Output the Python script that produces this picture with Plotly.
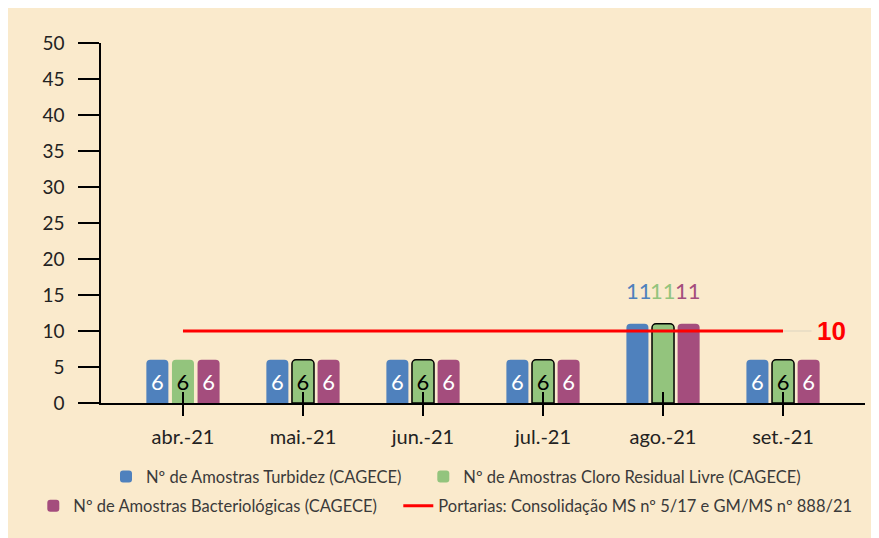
import plotly.graph_objects as go

categories = ["abr.-21", "mai.-21", "jun.-21", "jul.-21", "ago.-21", "set.-21"]
turbidez = [6, 6, 6, 6, 11, 6]
cloro = [6, 6, 6, 6, 11, 6]
bacterio = [6, 6, 6, 6, 11, 6]
portaria = [10, 10, 10, 10, 10, 10]
y_ticks = [0, 5, 10, 15, 20, 25, 30, 35, 40, 45, 50]

names = ["Nº de Amostras Turbidez (CAGECE)",
         "Nº de Amostras Cloro Residual Livre (CAGECE)",
         "Nº de Amostras Bacteriológicas (CAGECE)",
         "Portarias: Consolidação MS nº 5/17 e GM/MS nº 888/21"]
colors = ["#4F81BD", "#93C47D", "#A44D7D"]
inside_colors = ["white", "black", "white"]
legend_ids = ["legend", "legend2", "legend3", "legend4"]
BG = "#FAEACC"
FONT = "Lato"
limit = portaria[0]

fig = go.Figure()
series = [turbidez, cloro, bacterio]
for i, vals in enumerate(series):
    txt = [str(v) if v <= limit else "" for v in vals]
    line_w = [0] + [1.5] * (len(vals) - 1) if i == 1 else 0
    fig.add_trace(go.Bar(
        x=categories, y=vals, name=names[i],
        marker=dict(color=colors[i], line=dict(color="black", width=line_w)),
        text=txt, textposition="inside", insidetextanchor="middle",
        textfont=dict(color=inside_colors[i], size=22, family=FONT),
        constraintext="none",
        legend=legend_ids[i],
    ))
    for c, v in zip(categories, vals):
        if v > limit:
            fig.add_annotation(x=c, y=v, text=str(v), showarrow=False,
                               xshift=(i - 1) * 24.5, yshift=33,
                               font=dict(color=colors[i], size=22, family=FONT))

fig.add_trace(go.Scatter(
    x=categories, y=portaria, mode="lines", name=names[3],
    line=dict(color="#FF0000", width=3), legend=legend_ids[3],
))
fig.add_annotation(x=categories[-1], y=portaria[-1], text="<b>10</b>", showarrow=False,
                   xanchor="left", xshift=32, font=dict(color="#FF0000", size=26, family="Liberation Sans"))
fig.add_annotation(x=categories[-1], y=portaria[-1], ax=30, ay=0, axref="pixel", ayref="pixel",
                   text="", showarrow=True, arrowhead=0, arrowwidth=1.5, arrowcolor="#E6DCC4",
                   standoff=0, startstandoff=0)

H = 538
W = 879


def leg(xpx, ypx):
    return dict(orientation="h", xref="container", yref="container",
                x=xpx / W, xanchor="left", y=1 - ypx / H, yanchor="middle",
                font=dict(size=16.5, family=FONT, color="#3A3A3A"),
                bgcolor="rgba(0,0,0,0)", itemwidth=30)


fig.update_layout(
    width=W, height=H,
    margin=dict(l=93, r=22, t=35, b=143, autoexpand=False),
    paper_bgcolor=BG, plot_bgcolor=BG,
    font=dict(family=FONT, size=17, color="#222222"),
    barmode="group", bargap=0.36, bargroupgap=0.14, barcornerradius=4,
    showlegend=True,
    xaxis=dict(range=[-0.683, 5.683], showline=True, linecolor="black", linewidth=1.5,
               ticks="outside", ticklen=11, tickwidth=1.5, tickcolor="black", automargin=False,
               ticklabelstandoff=4,
               tickfont=dict(size=20, family=FONT, color="#222222"), showgrid=False, zeroline=False),
    xaxis2=dict(overlaying="x", matches="x", showline=False, ticks="inside", ticklen=11,
                tickwidth=1.5, tickcolor="black", showticklabels=False, showgrid=False,
                zeroline=False, range=[-0.683, 5.683], automargin=False),
    yaxis=dict(range=[0, 50], tickvals=y_ticks, showline=True, linecolor="black", linewidth=1.5,
               ticks="outside", ticklen=21, tickwidth=1.5, tickcolor="black", automargin=False,
               ticklabelstandoff=10, tickfont=dict(size=19, family=FONT, color="#222222"),
               showgrid=False, zeroline=False),
    legend=leg(98, 468.7),
    legend2=leg(415.3, 468.7),
    legend3=leg(25.3, 498),
    legend4=leg(390.3, 498),
)
# dummy trace to activate xaxis2 ticks
fig.add_trace(go.Scatter(x=categories, y=[None] * len(categories), xaxis="x2",
                         showlegend=False, hoverinfo="skip"))

fig.write_html("out.html")
